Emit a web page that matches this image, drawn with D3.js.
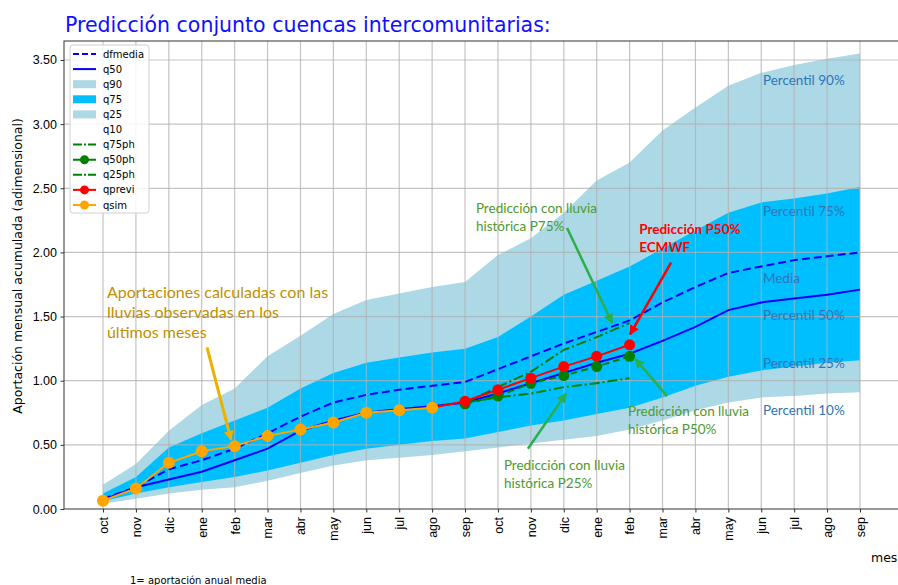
<!DOCTYPE html>
<html>
<head>
<meta charset="utf-8">
<script src="https://cdn.jsdelivr.net/npm/d3@7"></script>
<style>
body { margin: 0; background: #fff; }
svg { display: block; font-family: "DejaVu Sans", sans-serif; }
</style>
</head>
<body>
<svg id="chart" width="898" height="585"></svg>
<script>
// months of the hydrological year, two years
const months = ["oct","nov","dic","ene","feb","mar","abr","may","jun","jul","ago","sep",
                "oct","nov","dic","ene","feb","mar","abr","may","jun","jul","ago","sep"];
const yTicks = [0, 0.5, 1, 1.5, 2, 2.5, 3, 3.5];

// percentiles of accumulated inflow
const q90 = [0.19,0.35,0.61,0.81,0.94,1.19,1.35,1.52,1.63,1.68,1.73,1.77,1.98,2.11,2.31,2.56,2.70,2.95,3.13,3.30,3.40,3.46,3.51,3.55];
const q75 = [0.12,0.25,0.48,0.59,0.69,0.79,0.94,1.06,1.14,1.18,1.22,1.25,1.34,1.50,1.67,1.78,1.89,2.03,2.17,2.31,2.39,2.42,2.46,2.51];
const q25 = [0.06,0.12,0.17,0.21,0.25,0.30,0.36,0.42,0.47,0.50,0.53,0.55,0.60,0.65,0.69,0.74,0.79,0.87,0.96,1.03,1.08,1.11,1.14,1.16];
const q10 = [0.04,0.08,0.12,0.15,0.17,0.22,0.28,0.34,0.38,0.40,0.42,0.45,0.48,0.51,0.54,0.57,0.62,0.69,0.77,0.83,0.87,0.88,0.90,0.91];
const dfmedia = [0.08,0.17,0.31,0.38,0.47,0.59,0.72,0.83,0.89,0.93,0.96,0.99,1.09,1.19,1.29,1.38,1.47,1.61,1.73,1.84,1.89,1.94,1.97,2.00];
const q50 = [0.07,0.17,0.23,0.29,0.38,0.47,0.61,0.69,0.75,0.78,0.80,0.83,0.90,0.98,1.06,1.14,1.21,1.31,1.42,1.55,1.61,1.64,1.67,1.71];

// forecasts (null = no value)
const q75ph = [null,null,null,null,null,null,null,null,null,null,null,0.83,0.95,1.07,1.24,1.34,1.45,null,null,null,null,null,null,null];
const q50ph = [null,null,null,null,null,null,null,null,null,null,null,0.82,0.88,0.98,1.04,1.11,1.19,null,null,null,null,null,null,null];
const q25ph = [null,null,null,null,null,null,null,null,null,null,null,0.83,0.87,0.90,0.95,0.98,1.02,null,null,null,null,null,null,null];
const qprevi = [null,null,null,null,null,null,null,null,null,null,0.79,0.84,0.93,1.02,1.11,1.19,1.28,null,null,null,null,null,null,null];
const qsim = [0.065,0.16,0.36,0.45,0.49,0.57,0.62,0.675,0.75,0.77,0.79,null,null,null,null,null,null,null,null,null,null,null,null,null];

const legendNames = ["dfmedia","q50","q90","q75","q25","q10","q75ph","q50ph","q25ph","qprevi","qsim"];

const margin = {top: 41, left: 64};
const chartWidth = 835;
const chartHeight = 468;

const svg = d3.select("#chart");
const g = svg.append("g")
    .attr("transform", `translate(${margin.left},${margin.top})`);

const x = d3.scaleLinear().domain([-1.185, 24.185]).range([0, chartWidth]);
const y = d3.scaleLinear().domain([0, 3.648]).range([chartHeight, 0]);
const idx = d3.range(months.length);

// bands
const band = (lo, hi) => d3.area()
    .x(i => x(i)).y0(i => y(lo[i])).y1(i => y(hi[i]));

g.append("path").datum(idx).attr("d", band(q10, q90)).attr("fill", "#add8e6");
g.append("path").datum(idx).attr("d", band(q25, q75)).attr("fill", "#00bfff");

// grid
g.append("g")
    .selectAll("line.gx").data(idx).join("line")
    .attr("x1", d => x(d)).attr("x2", d => x(d))
    .attr("y1", 0).attr("y2", chartHeight)
    .attr("stroke", "#b0b0b0").attr("stroke-opacity", 0.75).attr("stroke-width", 1.2);
g.append("g")
    .selectAll("line.gy").data(yTicks.slice(1)).join("line")
    .attr("x1", 0).attr("x2", chartWidth)
    .attr("y1", d => y(d)).attr("y2", d => y(d))
    .attr("stroke", "#b0b0b0").attr("stroke-opacity", 0.75).attr("stroke-width", 1.2);

// lines
function drawLine(values, color, dash, width) {
    const line = d3.line()
        .defined(i => values[i] != null)
        .x(i => x(i)).y(i => y(values[i]));
    g.append("path").datum(idx)
        .attr("d", line)
        .attr("fill", "none")
        .attr("stroke", color)
        .attr("stroke-width", width)
        .attr("stroke-dasharray", dash);
}
function drawDots(values, color, r) {
    g.append("g").selectAll("circle")
        .data(idx.filter(i => values[i] != null))
        .join("circle")
        .attr("cx", i => x(i)).attr("cy", i => y(values[i]))
        .attr("r", r).attr("fill", color);
}

drawLine(dfmedia, "#0000ff", "8,4", 2);
drawLine(q50, "#0000ff", null, 2);
drawLine(q75ph, "#008000", "10,3,2,3", 2);
drawLine(q50ph, "#008000", "7,4", 2);
drawDots(q50ph, "#008000", 5.5);
drawLine(q25ph, "#008000", "10,3,2,3", 2);
drawLine(qprevi, "#ff0000", null, 2);
drawDots(qprevi, "#ff0000", 5.5);
drawLine(qsim, "#ffa500", null, 2);
drawDots(qsim, "#ffa500", 6);

// axes
const yAxis = g.append("g")
    .call(d3.axisLeft(y).tickValues(yTicks).tickFormat(d3.format(".2f")).tickSize(3.5).tickPadding(3.5));
yAxis.select(".domain").remove();
yAxis.selectAll("text").attr("font-size", 12.5).attr("fill", "#000");
yAxis.selectAll("line").attr("stroke", "#333");

const xAxis = g.append("g")
    .attr("transform", `translate(0,${chartHeight})`)
    .call(d3.axisBottom(x).tickValues(idx).tickFormat(i => months[i]).tickSize(3.5));
xAxis.select(".domain").remove();
xAxis.selectAll("line").attr("stroke", "#333");
xAxis.selectAll("text")
    .attr("font-size", 12.5).attr("fill", "#000")
    .attr("x", -8).attr("y", 0).attr("dy", "0.35em")
    .attr("transform", "rotate(-90)")
    .style("text-anchor", "end");

g.append("rect")
    .attr("width", chartWidth).attr("height", chartHeight)
    .attr("fill", "none").attr("stroke", "#333").attr("stroke-width", 1);

// labels
svg.append("text")
    .attr("x", 65).attr("y", 32)
    .attr("font-size", 20.5).attr("fill", "#1010ff")
    .text("Predicción conjunto cuencas intercomunitarias:");

svg.append("text")
    .attr("transform", "translate(22,266) rotate(-90)")
    .attr("text-anchor", "middle")
    .attr("font-size", 12.5)
    .text("Aportación mensual acumulada (adimensional)");

svg.append("text")
    .attr("x", 871).attr("y", 562)
    .attr("font-size", 12.5)
    .text("mes");

svg.append("text")
    .attr("x", 130).attr("y", 584)
    .attr("font-size", 10)
    .text("1= aportación anual media");

// legend
const leg = svg.append("g").attr("transform", "translate(70,45)");
leg.append("rect")
    .attr("width", 79).attr("height", 168).attr("rx", 3)
    .attr("fill", "#fff").attr("fill-opacity", 0.85)
    .attr("stroke", "#d0d0d0");
const legendStyle = {
    dfmedia: {type: "line", color: "#0000ff", dash: "6,3"},
    q50: {type: "line", color: "#0000ff"},
    q90: {type: "patch", color: "#add8e6"},
    q75: {type: "patch", color: "#00bfff"},
    q25: {type: "patch", color: "#add8e6"},
    q10: {type: "none"},
    q75ph: {type: "line", color: "#008000", dash: "9,2,2,2"},
    q50ph: {type: "line", color: "#008000", dash: "9,2,2,2", dot: true},
    q25ph: {type: "line", color: "#008000", dash: "9,2,2,2"},
    qprevi: {type: "line", color: "#ff0000", dot: true},
    qsim: {type: "line", color: "#ffa500", dot: true}
};
legendNames.forEach((name, i) => {
    const s = legendStyle[name];
    const row = leg.append("g").attr("transform", `translate(0,${9 + i * 15.1})`);
    if (s.type === "line") {
        row.append("line").attr("x1", 3).attr("x2", 26)
            .attr("stroke", s.color).attr("stroke-width", 2)
            .attr("stroke-dasharray", s.dash || null);
        if (s.dot) row.append("circle").attr("cx", 14.5).attr("r", 4.5).attr("fill", s.color);
    } else if (s.type === "patch") {
        row.append("rect").attr("x", 3).attr("y", -4).attr("width", 23).attr("height", 8)
            .attr("fill", s.color);
    }
    row.append("text").attr("x", 33).attr("dy", "0.35em")
        .attr("font-size", 10).text(name);
});

// annotations (positions in data units)
const defs = svg.append("defs");
function arrowHead(id, color) {
    defs.append("marker")
        .attr("id", id).attr("viewBox", "0 0 10 10")
        .attr("refX", 9).attr("refY", 5)
        .attr("markerWidth", 10).attr("markerHeight", 10)
        .attr("markerUnits", "userSpaceOnUse")
        .attr("orient", "auto")
        .append("path").attr("d", "M0,0L10,5L0,10z").attr("fill", color);
}
arrowHead("a-gold", "#f0b000");
arrowHead("a-green", "#2ab04a");
arrowHead("a-red", "#ff0000");

const notes = [
    {lines: ["Aportaciones calculadas con las", "lluvias observadas en los", "últimos meses"],
     at: [0.12, 1.645], lh: 20, size: 16, color: "#bf9000", weight: "normal",
     arrow: [[3.16, 1.26], [3.89, 0.54]], head: "a-gold", aColor: "#f0b000", w: 3},
    {lines: ["Predicción con lluvia", "histórica P75%"],
     at: [11.33, 2.31], lh: 18, size: 13.5, color: "#4e9a2e", weight: "normal",
     arrow: [[14.1, 2.19], [15.47, 1.45]], head: "a-green", aColor: "#2ab04a", w: 2.5},
    {lines: ["Predicción P50%", "ECMWF"],
     at: [16.29, 2.14], lh: 18, size: 13.5, color: "#ff0000", weight: "bold",
     arrow: [[17.26, 1.92], [16.01, 1.36]], head: "a-red", aColor: "#ff0000", w: 2.5},
    {lines: ["Predicción con lluvia", "histórica P50%"],
     at: [15.95, 0.725], lh: 18, size: 13.5, color: "#4e9a2e", weight: "normal",
     arrow: [[17.14, 0.88], [16.17, 1.17]], head: "a-green", aColor: "#2ab04a", w: 2.5},
    {lines: ["Predicción con lluvia", "histórica P25%"],
     at: [12.18, 0.304], lh: 18, size: 13.5, color: "#4e9a2e", weight: "normal",
     arrow: [[12.91, 0.47], [14.07, 0.90]], head: "a-green", aColor: "#2ab04a", w: 2.5}
];
notes.forEach(n => {
    g.append("line")
        .attr("x1", x(n.arrow[0][0])).attr("y1", y(n.arrow[0][1]))
        .attr("x2", x(n.arrow[1][0])).attr("y2", y(n.arrow[1][1]))
        .attr("stroke", n.aColor).attr("stroke-width", n.w)
        .attr("marker-end", `url(#${n.head})`);
    const t = g.append("text")
        .attr("font-family", "Lato, 'Open Sans', sans-serif")
        .attr("font-size", n.size).attr("font-weight", n.weight)
        .attr("fill", n.color);
    n.lines.forEach((l, i) => {
        t.append("tspan").attr("x", x(n.at[0])).attr("y", y(n.at[1]) + i * n.lh).text(l);
    });
});

const pctLabels = ["Percentil 90%", "Percentil 75%", "Media", "Percentil 50%", "Percentil 25%", "Percentil 10%"];
const pctLevels = [3.305, 2.284, 1.761, 1.473, 1.099, 0.733];
g.append("g").selectAll("text")
    .data(pctLabels).join("text")
    .attr("x", x(20.05))
    .attr("y", (d, i) => y(pctLevels[i]))
    .attr("font-family", "Lato, 'Open Sans', sans-serif")
    .attr("font-size", 13.5)
    .attr("fill", "#2e75b6")
    .text(d => d);
</script>
</body>
</html>
